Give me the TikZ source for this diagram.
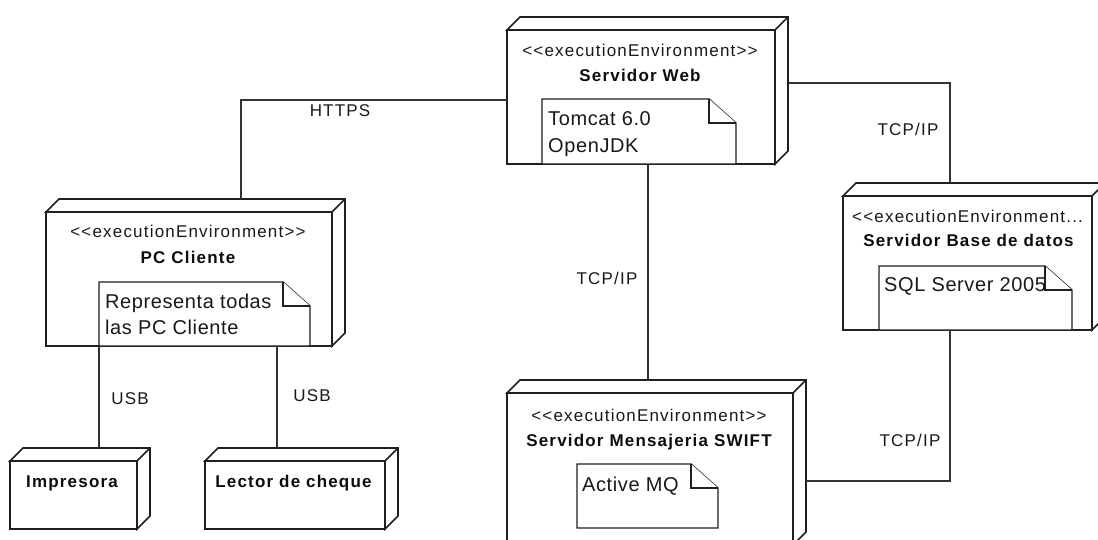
\documentclass[tikz,border=0pt]{standalone}
\usepackage{fontspec}
\setmainfont{Liberation Sans}
\newfontfamily\tagfont{Liberation Sans}[LetterSpace=7]
\newfontfamily\memofont{Liberation Sans}[LetterSpace=3]
\usetikzlibrary{calc}

\tikzset{
  ink/.style={draw=black!88},
  front/.style={ink, line width=1.6pt, fill=white, rectangle, inner sep=0pt, outer sep=0pt, anchor=north west},
  memo/.style={rectangle, inner sep=0pt, outer sep=0pt, anchor=north west},
  wire/.style={draw=black!80, line width=1.4pt},
  faceline/.style={ink, line width=1.6pt, line join=miter, fill=white},
  memoline/.style={ink, line width=1.4pt, fill=white},
  stereo/.style={font={\tagfont\fontsize{17}{20}\selectfont}, text=black!90, anchor=base, inner sep=0pt},
  stereoleft/.style={stereo, anchor=base west},
  title/.style={font={\tagfont\bfseries\fontsize{17}{20}\selectfont}, text=black!95, anchor=base, inner sep=0pt},
  wirelabel/.style={font={\tagfont\fontsize{17}{20}\selectfont}, text=black!90, anchor=base, inner sep=0pt},
  memotext/.style={font={\memofont\fontsize{20}{24}\selectfont}, text=black!90, anchor=base west, inner sep=0pt},
}

% top and side faces of a UML node box
\newcommand\boxfaces[1]{%
  \draw[faceline] (#1.north west) -- ++(13,-13) -- ($(#1.north east)+(13,-13)$)
    -- ($(#1.south east)+(13,-13)$) -- (#1.south east) -- (#1.north east) -- cycle;
  \draw[faceline] (#1.north east) -- ++(13,-13);
}
% note sheet with a folded corner
\newcommand\memosheet[1]{%
  \draw[memoline] (#1.north west) -- ($(#1.north east)+(-27,0)$) -- ($(#1.north east)+(0,24)$)
    -- (#1.south east) -- (#1.south west) -- cycle;
  \draw[memoline] ($(#1.north east)+(-27,0)$) |- ($(#1.north east)+(0,24)$);
}

\begin{document}
\begin{tikzpicture}[x=1pt, y=-1pt]
\useasboundingbox (0,0) rectangle (1098,540);
\fill[white] (0,0) rectangle (1098,540);
\clip (0,0) rectangle (1098,540);

% --- Servidor Web ---
\node[front, minimum width=268, minimum height=134] (web) at (507,30) {};
\boxfaces{web}
\node[stereo] (webst) at ($(web.north)+(-1,26.5)$) {<<executionEnvironment>>};
\node[title] (webti) at ($(web.north)+(-1,52)$) {Servidor Web};
\node[memo, minimum width=194, minimum height=65] (webnote) at (542,99) {};
\memosheet{webnote}
\node[memotext] (webn1) at ($(webnote.north west)+(6,27)$) {Tomcat 6.0};
\node[memotext] (webn2) at ($(webnote.north west)+(6,54)$) {OpenJDK};

% --- PC Cliente ---
\node[front, minimum width=286, minimum height=134] (pc) at (46,212) {};
\boxfaces{pc}
\node[stereo] (pcst) at ($(pc.north)+(-1,25.5)$) {<<executionEnvironment>>};
\node[title] (pcti) at ($(pc.north)+(-1,51)$) {PC Cliente};
\node[memo, minimum width=211, minimum height=64] (pcnote) at (99,282) {};
\memosheet{pcnote}
\node[memotext] (pcn1) at ($(pcnote.north west)+(6,26)$) {Representa todas};
\node[memotext] (pcn2) at ($(pcnote.north west)+(6,52)$) {las PC Cliente};

% --- Servidor Base de datos ---
\node[front, minimum width=249, minimum height=134] (db) at (843,196) {};
\boxfaces{db}
\node[stereoleft] (dbst) at ($(db.north west)+(9,27)$) {<<executionEnvironment...};
\node[title] (dbti) at ($(db.north)+(1,51)$) {Servidor Base de datos};
\node[memo, minimum width=193, minimum height=64] (dbnote) at (879,266) {};
\memosheet{dbnote}
\node[memotext] (dbn1) at ($(dbnote.north west)+(5,25)$) {SQL Server 2005};

% --- Servidor Mensajeria SWIFT ---
\node[front, minimum width=286, minimum height=152] (swift) at (507,393) {};
\boxfaces{swift}
\node[stereo] (swst) at ($(swift.north)+(-1,28)$) {<<executionEnvironment>>};
\node[title] (swti) at ($(swift.north)+(-1,53)$) {Servidor Mensajeria SWIFT};
\node[memo, minimum width=141, minimum height=64] (swnote) at (577,464) {};
\memosheet{swnote}
\node[memotext] (swn1) at ($(swnote.north west)+(5,27)$) {Active MQ};

% --- devices ---
\node[front, minimum width=127, minimum height=68] (imp) at (10,461) {};
\boxfaces{imp}
\node[title] (impti) at ($(imp.north)+(-1.5,26)$) {Impresora};
\node[front, minimum width=180, minimum height=68] (lector) at (205,461) {};
\boxfaces{lector}
\node[title] (lecti) at ($(lector.north)+(-1.5,26)$) {Lector de cheque};

% --- communication paths ---
\draw[wire] (web.west |- 0,100) -| ($(pc.north west)+(195,-13)$);
\draw[wire] ($(web.north east)+(13,53)$) -| ($(db.north west)+(107,-13)$);
\draw[wire] ($(web.south)+(7,0)$) -- ($(swift.north)+(-2,-13)$);
\draw[wire] (db.south -| 950,0) |- ($(swift.north east)+(13,88)$);
\draw[wire] (pc.south -| pcnote.west) -- ($(imp.north west)+(89,-13)$);
\draw[wire] (pc.south -| 277,0) -- ($(lector.north west)+(72,-13)$);

% --- path labels ---
\node[wirelabel] (l1) at (340,117) {HTTPS};
\node[wirelabel] (l2) at (908,136) {TCP/IP};
\node[wirelabel] (l3) at (607,284) {TCP/IP};
\node[wirelabel] (l4) at (910,446) {TCP/IP};
\node[wirelabel] (l5) at (130,404) {USB};
\node[wirelabel] (l6) at (312,401) {USB};
\end{tikzpicture}
\end{document}
